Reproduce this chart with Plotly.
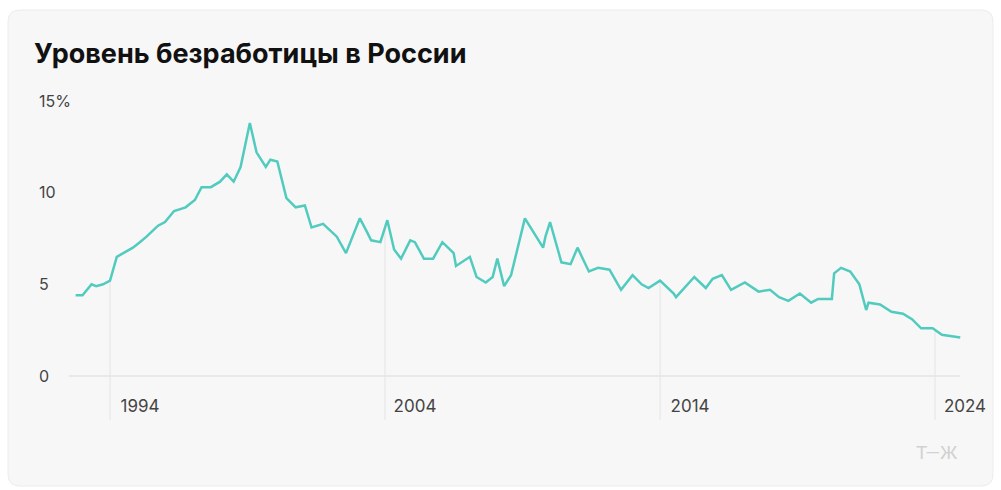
import plotly.graph_objects as go
import numpy as np
import pandas as pd

# --- data ---
dates = [
    "1992-10-01", "1993-01-01", "1993-05-01", "1993-07-01", "1993-10-01",
    "1994-01-01", "1994-04-01", "1994-08-01", "1994-11-01", "1995-02-01",
    "1995-05-01", "1995-10-01", "1996-01-01", "1996-05-01", "1996-10-01",
    "1997-02-01", "1997-05-01", "1997-09-01", "1998-01-01", "1998-04-01",
    "1998-07-01", "1998-10-01", "1999-02-01", "1999-05-01", "1999-09-01",
    "1999-11-01", "2000-02-01", "2000-06-01", "2000-10-01", "2001-02-01",
    "2001-05-01", "2001-10-01", "2002-04-01", "2002-08-01", "2003-02-01",
    "2003-05-01", "2003-07-01", "2003-11-01", "2004-02-01", "2004-05-01",
    "2004-08-01", "2004-12-01", "2005-02-01", "2005-06-01", "2005-10-01",
    "2006-02-01", "2006-07-01", "2006-08-01", "2007-02-01", "2007-05-01",
    "2007-09-01", "2007-12-01", "2008-02-01", "2008-05-01", "2008-08-01",
    "2009-02-01", "2009-10-01", "2009-11-01", "2010-01-01", "2010-06-01",
    "2010-10-01", "2011-01-01", "2011-06-01", "2011-10-01", "2012-03-01",
    "2012-08-01", "2013-01-01", "2013-05-01", "2013-08-01", "2014-01-01",
    "2014-07-01", "2014-08-01", "2015-04-01", "2015-09-01", "2015-12-01",
    "2016-04-01", "2016-08-01", "2017-02-01", "2017-08-01", "2018-01-01",
    "2018-05-01", "2018-09-01", "2019-02-01", "2019-07-01", "2019-10-01",
    "2020-04-01", "2020-05-01", "2020-08-01", "2020-12-01", "2021-04-01",
    "2021-07-01", "2021-08-01", "2022-01-01", "2022-06-01", "2022-11-01",
    "2023-03-01", "2023-07-01", "2023-12-01", "2024-04-01", "2024-12-01",
]
unemployment = [
    4.4, 4.4, 5.0, 4.9, 5.0,
    5.2, 6.5, 6.8, 7.0, 7.3,
    7.6, 8.2, 8.4, 9.0, 9.2,
    9.6, 10.3, 10.3, 10.6, 11.0,
    10.6, 11.4, 13.8, 12.2, 11.4,
    11.8, 11.7, 9.7, 9.2, 9.3,
    8.1, 8.3, 7.6, 6.7, 8.6,
    7.9, 7.4, 7.3, 8.5, 6.9,
    6.4, 7.4, 7.3, 6.4, 6.4,
    7.3, 6.7, 6.0, 6.5, 5.4,
    5.1, 5.4, 6.4, 4.9, 5.5,
    8.6, 7.0, 7.6, 8.4, 6.2,
    6.1, 7.0, 5.7, 5.9, 5.8,
    4.7, 5.5, 5.0, 4.8, 5.2,
    4.5, 4.3, 5.4, 4.8, 5.3,
    5.5, 4.7, 5.1, 4.6, 4.7,
    4.3, 4.1, 4.5, 4.0, 4.2,
    4.2, 5.6, 5.9, 5.7, 5.0,
    3.6, 4.0, 3.9, 3.5, 3.4,
    3.1, 2.6, 2.6, 2.25, 2.1,
]
tick_years = ["1994", "2004", "2014", "2024"]
y_ticks = [0, 5, 10, 15]
y_tick_text = ["0", "5", "10", "15%"]
title_text = "Уровень безработицы в России"
logo_text = "Т—Ж"

LINE = "#52cbbf"
GRID = "#e4e4e4"
CARD = "#f7f7f7"

W, H = 1001, 490
ML, MR, MT, MB = 36, 8, 85, 70
ZERO_PX, PX_PER_UNIT = 376, 18.33
pw = W - ML - MR
ph = H - MT - MB
y_lo = -((H - MB) - ZERO_PX) / PX_PER_UNIT
y_hi = 15 + (101 - MT) / PX_PER_UNIT

fig = go.Figure()

# drop lines at tick years (top taken from the series)
ts = pd.to_datetime(pd.Series(dates)).astype("int64").to_numpy() / 1e9
for yr in tick_years:
    d = f"{yr}-01-01"
    t = pd.Timestamp(d).value / 1e9
    v = float(np.interp(t, ts, unemployment))
    fig.add_trace(go.Scatter(x=[d, d], y=[y_lo, v], mode="lines",
                             line=dict(color=GRID, width=1),
                             hoverinfo="skip", showlegend=False))

# zero baseline
fig.add_trace(go.Scatter(x=["1992-07-01", dates[-1]], y=[0, 0], mode="lines",
                         line=dict(color=GRID, width=1.5),
                         hoverinfo="skip", showlegend=False))

# main series
fig.add_trace(go.Scatter(x=dates, y=unemployment, mode="lines",
                         line=dict(color=LINE, width=2.5, shape="linear"),
                         showlegend=False))

# card background (rounded rect in paper coords)
def px(x):
    return (x - ML) / pw
def py(y):
    return (H - MB - y) / ph
x0, x1, y0, y1, r = 8, 993, 10, 486, 12
rx, ry = r / pw, r / ph
path = (f"M {px(x0)+rx},{py(y0)} L {px(x1)-rx},{py(y0)} "
        f"Q {px(x1)},{py(y0)} {px(x1)},{py(y0)-ry} "
        f"L {px(x1)},{py(y1)+ry} Q {px(x1)},{py(y1)} {px(x1)-rx},{py(y1)} "
        f"L {px(x0)+rx},{py(y1)} Q {px(x0)},{py(y1)} {px(x0)},{py(y1)+ry} "
        f"L {px(x0)},{py(y0)-ry} Q {px(x0)},{py(y0)} {px(x0)+rx},{py(y0)} Z")
fig.add_shape(type="path", path=path, xref="paper", yref="paper",
              fillcolor=CARD, line=dict(color="#ececec", width=1), layer="below")

# x range: 27.5 px per year, 1994 at pixel 110
px_per_year = 27.5
start = 1994 - (110 - ML) / px_per_year
end = start + pw / px_per_year
def yr_to_date(y):
    return (pd.Timestamp("1994-01-01") + pd.Timedelta(days=(y - 1994) * 365.25)).strftime("%Y-%m-%d")

fig.update_layout(
    width=W, height=H,
    margin=dict(l=ML, r=MR, t=MT, b=MB),
    paper_bgcolor="white",
    plot_bgcolor="rgba(0,0,0,0)",
    font=dict(family="Inter, Roboto, sans-serif", color="#444"),
    title=dict(text=title_text, x=34 / W, xanchor="left", xref="container",
               y=1 - 54 / H, yanchor="middle", yref="container",
               font=dict(family="Inter, Roboto, sans-serif", size=27, color="#111", weight=700)),
    xaxis=dict(
        type="date",
        range=[yr_to_date(start), yr_to_date(end)],
        showgrid=False, zeroline=False, showline=False, ticks="",
        tickvals=[f"{y}-01-01" for y in tick_years],
        ticktext=tick_years,
        tickfont=dict(size=17, color="#444"),
        ticklabelposition="inside",
        ticklabelshift=30,
        ticklabelstandoff=2,
    ),
    yaxis=dict(
        range=[y_lo, y_hi],
        showgrid=False, zeroline=False, showline=False, ticks="",
        tickvals=y_ticks, ticktext=y_tick_text,
        ticklabelposition="inside",
        tickfont=dict(size=16, color="#444"),
    ),
    annotations=[dict(text=logo_text, xref="paper", yref="paper",
                      x=px(960), y=py(452), xanchor="right", yanchor="middle",
                      showarrow=False,
                      font=dict(family="Roboto, sans-serif", size=19, color="#d2d2d2"))],
)

fig.write_html("out.html", config={"displayModeBar": False},
               post_script="document.body.style.margin='0';")
